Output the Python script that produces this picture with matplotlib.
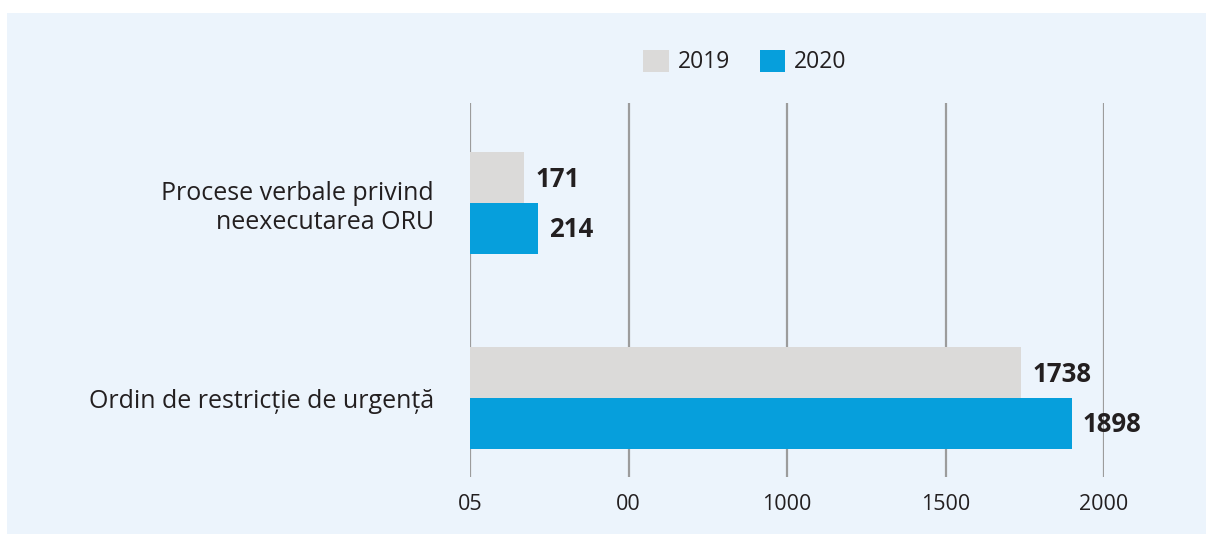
import matplotlib
matplotlib.use('Agg')
import matplotlib.pyplot as plt
from matplotlib.patches import Rectangle, Patch

plt.rcParams['font.family'] = ['Open Sans', 'DejaVu Sans']

categories = ['Procese verbale privind\nneexecutarea ORU', 'Ordin de restricție de urgență']
values_2019 = [171, 1738]
values_2020 = [214, 1898]
tick_values = [0, 500, 1000, 1500, 2000]
tick_labels = ['05', '00', '1000', '1500', '2000']

c2019 = '#dbdad9'
c2020 = '#069fdc'
bg = '#ecf4fc'
txt = '#231f20'

fig = plt.figure(figsize=(12.06, 5.34), dpi=100)
fig.patch.set_facecolor('white')
fig.patches.append(Rectangle((7 / 1206, 0), 1 - 7 / 1206, 1 - 13 / 534,
                             transform=fig.transFigure, facecolor=bg,
                             edgecolor='none', zorder=-5))

ax = fig.add_axes([470 / 1206, 57 / 534, 634 / 1206, 374 / 534])
ax.set_facecolor('none')

h = 0.26
ypos = list(range(len(categories)))
b1 = ax.barh([y - h / 2 for y in ypos], values_2019, height=h, color=c2019, zorder=2)
b2 = ax.barh([y + h / 2 for y in ypos], values_2020, height=h, color=c2020, zorder=2)

for bars in (b1, b2):
    for bar in bars:
        w = bar.get_width()
        ax.annotate(str(int(w)), (w, bar.get_y() + bar.get_height() / 2),
                    xytext=(8, -1), textcoords='offset points',
                    ha='left', va='center', fontsize=18.5, fontweight='bold',
                    color=txt, annotation_clip=False)

ax.set_xlim(0, 2000)
ax.set_ylim(1.405, -0.513)
ax.set_xticks(tick_values)
ax.set_xticklabels(tick_labels)
ax.set_yticks(ypos)
ax.set_yticklabels(categories, ha='right', linespacing=1.2)
ax.tick_params(axis='x', length=0, pad=12, labelsize=15.5, colors=txt)
ax.tick_params(axis='y', length=0, pad=26, labelsize=18, colors=txt)
for s in ax.spines.values():
    s.set_visible(False)
for x in tick_values:
    ax.axvline(x, color='#9c9c9c', linewidth=1.6, zorder=1)

handles = [Patch(facecolor=c2019, label='2019'), Patch(facecolor=c2020, label='2020')]
fig.legend(handles=handles, loc='center', bbox_to_anchor=(745 / 1206, 1 - 62 / 534),
           ncol=2, frameon=False, fontsize=16.5, handlelength=1.1, handleheight=1.1,
           handletextpad=0.4, columnspacing=1.3, labelcolor=txt)

fig.savefig('out.png', dpi=100, facecolor=fig.get_facecolor())
